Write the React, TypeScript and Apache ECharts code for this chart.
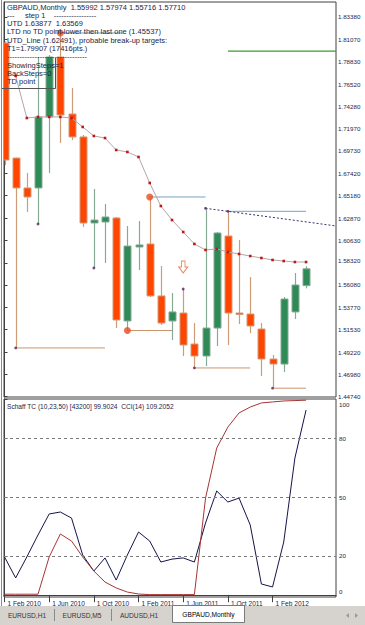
import React, { useEffect, useRef } from 'react';
import * as echarts from 'echarts';

// ---------- data ----------
const months = ['Feb 2010','Mar 2010','Apr 2010','May 2010','Jun 2010','Jul 2010','Aug 2010','Sep 2010','Oct 2010','Nov 2010','Dec 2010','Jan 2011','Feb 2011','Mar 2011','Apr 2011','May 2011','Jun 2011','Jul 2011','Aug 2011','Sep 2011','Oct 2011','Nov 2011','Dec 2011','Jan 2012','Feb 2012','Mar 2012','Apr 2012','May 2012'];
const opens = [1.8073, 1.6900, 1.6595, 1.6595, 1.7319, 1.7930, 1.7349, 1.7115, 1.6238, 1.6248, 1.6289, 1.5239, 1.5993, 1.6024, 1.5494, 1.5239, 1.5320, 1.5004, 1.4882, 1.5167, 1.6105, 1.5320, 1.5310, 1.5157, 1.4851, 1.4800, 1.5331, 1.55992];
const closes = [1.6880, 1.6595, 1.6503, 1.7319, 1.7930, 1.7339, 1.7115, 1.6238, 1.6268, 1.6299, 1.5249, 1.6003, 1.6014, 1.5494, 1.5218, 1.5331, 1.4994, 1.4882, 1.5167, 1.6136, 1.5320, 1.5310, 1.5188, 1.4851, 1.4800, 1.5463, 1.5606, 1.57710];
const lows = [1.6829, 1.4964, 1.6350, 1.6228, 1.6748, 1.7054, 1.7084, 1.6197, 1.5779, 1.5830, 1.5167, 1.5142, 1.5759, 1.5483, 1.5198, 1.5045, 1.4882, 1.4760, 1.4780, 1.4984, 1.4994, 1.5208, 1.5116, 1.4678, 1.45537, 1.4719, 1.5259, 1.55716];
const highs = [1.8090, 1.6905, 1.6748, 1.7930, 1.7950, 1.8175, 1.7614, 1.7135, 1.6585, 1.6432, 1.6299, 1.6207, 1.6258, 1.6503, 1.5800, 1.5524, 1.5565, 1.5218, 1.63877, 1.6146, 1.63569, 1.6065, 1.5687, 1.5218, 1.4892, 1.5483, 1.5728, 1.57974];
const maLine = [null, 1.7737, 1.7308, 1.7319, 1.7319, 1.7319, 1.7308, 1.7217, 1.7125, 1.7104, 1.6982, 1.6962, 1.6911, 1.6646, 1.6411, 1.6268, 1.6146, 1.6024, 1.5963, 1.5973, 1.5942, 1.5922, 1.5901, 1.5881, 1.5861, 1.5850, 1.5840, 1.5840];
const cciLine = [19.5, 8.8, 19.5, 30.7, 41.4, 42.4, 39.3, 20.5, 12.3, 19.0, 7.7, 20.5, 32.2, 27.6, 16.9, 18.4, 19.0, 16.9, 36.8, 53.1, 47.5, 49.5, 35.8, 5.7, 4.2, 27.1, 69.9, 94.4];
const schaffLine = [0.5, 0.5, 0.5, 0.5, 19.5, 31.2, 27.6, 19.5, 12.3, 6.7, 3.7, 1.6, 0.6, 0.3, 0.3, 0.3, 0.3, 0.3, 49.5, 75.0, 85.7, 92.9, 95.9, 98.0, 98.5, 99.0, 99.2, 99.4];

const priceTicks = ['1.83380','1.81070','1.78830','1.76520','1.74280','1.71970','1.69730','1.67420','1.65180','1.62870','1.60630','1.58320','1.56080','1.53770','1.51530','1.49220','1.46980','1.44740'];
const subTicks = [0, 20, 50, 80, 100];
const subLevels = [20, 50, 80];
const dateTickIdx = [0, 4, 8, 12, 16, 20, 24];
const dateLabels = ['1 Feb 2010','1 Jun 2010','1 Oct 2010','1 Feb 2011','1 Jun 2011','1 Oct 2011','1 Feb 2012'];

const circleHighIdx = [5, 13];
const circleLowIdx = [11];
const dotLowIdx = [1, 3, 8, 17, 24];
const dotHighIdx = [16, 18, 20];
const utdSegments = [[5, 10.5], [13, 18], [20, 27]]; // from TD high: start idx, end idx
const ltdSegments = [[1, 9], [11, 15], [17, 22], [24, 27]]; // from TD low: start idx, end idx
const utdTrendIdx = [18, 20];
const t1Level = 1.79907;
const t1StartIdx = 20;
const lastClose = 1.57710;
const arrowMarks = [[16, 1.5789]];

const infoLines = [
  'GBPAUD,Monthly  1.55992 1.57974 1.55716 1.57710',
  '---     step 1    -----------------',
  'UTD 1.63877  1.63569',
  'LTD no TD point-lower then last one (1.45537)',
  'UTD_Line (1.62491), probable break-up targets:',
  'T1=1.79907 (17416pts.)',
  '--------------------------------',
  'ShowingSteps=1',
  'BackSteps=0',
  'TD point',
];
const subTitle = 'Schaff TC (10,23,50) [43200] 99.9024  CCI(14) 109.2052';
const tabs = ['EURUSD,H1', 'EURUSD,M5', 'AUDUSD,H1'];
const activeTab = 'GBPAUD,Monthly';

// ---------- styling ----------
const FONT = "'Liberation Sans', Arial, sans-serif";
const TXT = '#1e1e46';
const bullFill = '#2e8b57';
const bullWick = '#86aa94';
const bearFill = '#ff4500';
const bearWick = '#cf9c78';
const xMin = -0.045;
const xMax = 29.68;
const yMin = 1.44639;
const yMax = 1.84909;

const segSeries = (a: number, b: number, ya: number, yb: number, color: string, width: number, type: any = 'solid') => ({
  type: 'line', xAxisIndex: 0, yAxisIndex: 0, z: 2, symbol: 'none', silent: true,
  data: [[a, ya], [b, yb]],
  lineStyle: { color, width, type },
});

export default function App() {
  const ref = useRef<HTMLDivElement>(null);

  useEffect(() => {
    if (!ref.current) return;
    const chart = echarts.init(ref.current, null, { renderer: 'svg' });

    const candleData = opens.map((o, i) => [i, o, closes[i], lows[i], highs[i]]);
    const renderCandle = (params: any, api: any) => {
      const i = api.value(0);
      const o = api.value(1), c = api.value(2), l = api.value(3), h = api.value(4);
      const pO = api.coord([i, o]);
      const pC = api.coord([i, c]);
      const pL = api.coord([i, l]);
      const pH = api.coord([i, h]);
      const bull = c >= o;
      const x = Math.round(pO[0]) + 0.5;
      const top = Math.min(pO[1], pC[1]);
      const bot = Math.max(pO[1], pC[1]);
      const w = 7;
      return {
        type: 'group',
        children: [
          { type: 'line', shape: { x1: x, y1: pH[1], x2: x, y2: pL[1] }, style: { stroke: bull ? bullWick : bearWick, lineWidth: 1.2 } },
          { type: 'rect', shape: { x: x - w / 2, y: top, width: w, height: Math.max(bot - top, 1.5) }, style: { fill: bull ? bullFill : bearFill, stroke: bull ? bullWick : bearWick, lineWidth: 1 } },
        ],
      };
    };

    const slope = (highs[utdTrendIdx[1]] - highs[utdTrendIdx[0]]) / (utdTrendIdx[1] - utdTrendIdx[0]);
    const trendEnd = highs[utdTrendIdx[0]] + slope * (xMax - utdTrendIdx[0]);

    const graphics: any[] = [];
    graphics.push({ type: 'line', shape: { x1: 1.5, y1: 0, x2: 1.5, y2: 606 }, style: { stroke: '#8a8a8a', lineWidth: 1 }, z: 100 });
    const infoY = [7.3, 15.5, 23.6, 31.8, 40, 48.3, 56.6, 65.4, 73.6, 81.8];
    infoLines.forEach((t, k) => {
      graphics.push({ type: 'text', x: 7, y: infoY[k], z: 100, style: { text: t, fill: TXT, font: `7.5px ${FONT}`, verticalAlign: 'middle', textVerticalAlign: 'middle' } });
    });
    graphics.push({ type: 'polyline', shape: { points: [[2, 88.5], [55.5, 88.5], [55.5, 58]] }, style: { stroke: '#555', lineWidth: 1, fill: null }, z: 100 });
    graphics.push({ type: 'text', x: 7, y: 406.5, z: 100, style: { text: subTitle, fill: TXT, font: `6.6px ${FONT}`, verticalAlign: 'middle', textVerticalAlign: 'middle' } });
    graphics.push({ type: 'rect', shape: { x: 0, y: 606, width: 365, height: 19 }, style: { fill: '#d6d3ce' }, z: 100 });
    const tabCenters = [27, 82, 139];
    tabs.forEach((t, k) => {
      graphics.push({ type: 'text', x: tabCenters[k], y: 615.5, z: 101, style: { text: t, fill: '#333', font: `6.6px ${FONT}`, align: 'center', textAlign: 'center', verticalAlign: 'middle', textVerticalAlign: 'middle' } });
    });
    [54.5, 111.5].forEach((sx) => {
      graphics.push({ type: 'line', shape: { x1: sx, y1: 609, x2: sx, y2: 621 }, style: { stroke: '#8a8a8a', lineWidth: 1 }, z: 101 });
    });
    graphics.push({ type: 'rect', shape: { x: 172.5, y: 605.5, width: 72, height: 17 }, style: { fill: '#ffffff', stroke: '#7a7a7a', lineWidth: 1 }, z: 101 });
    graphics.push({ type: 'text', x: 208.5, y: 614.5, z: 102, style: { text: activeTab, fill: '#000', font: `6.6px ${FONT}`, align: 'center', textAlign: 'center', verticalAlign: 'middle', textVerticalAlign: 'middle' } });
    graphics.push({ type: 'polygon', shape: { points: [[346, 615.5], [349, 613], [349, 618]] }, style: { fill: '#9a9a9a' }, z: 101 });
    graphics.push({ type: 'polygon', shape: { points: [[358, 615.5], [355, 613], [355, 618]] }, style: { fill: '#9a9a9a' }, z: 101 });

    const series: any[] = [];
    ltdSegments.forEach(([a, b]) => series.push(segSeries(a, b, lows[a], lows[a], '#c8966c', 1)));
    utdSegments.forEach(([a, b]) => series.push(segSeries(a, b, highs[a], highs[a], '#74a3c4', 1)));
    series.push(segSeries(t1StartIdx, xMax, t1Level, t1Level, '#3c9a34', 1.2));
    series.push(segSeries(utdTrendIdx[0], xMax, highs[utdTrendIdx[0]], trendEnd, '#3a2f6e', 1, [2, 2]));

    series.push(
      {
        type: 'custom', xAxisIndex: 0, yAxisIndex: 0, z: 3, clip: true,
        renderItem: renderCandle,
        encode: { x: 0, y: [1, 2, 3, 4] },
        data: candleData,
      },
      {
        type: 'line', xAxisIndex: 0, yAxisIndex: 0, z: 4,
        data: maLine.map((v, i) => [i, v]),
        symbol: 'rect', symbolSize: 2.6, showSymbol: true,
        itemStyle: { color: '#c01818' },
        lineStyle: { color: '#b8a4a4', width: 1 },
        markLine: {
          silent: true, symbol: 'none', animation: false,
          lineStyle: { opacity: 0 },
          data: [{ yAxis: lastClose }],
          label: {
            show: true, position: 'end', distance: 2,
            formatter: () => lastClose.toFixed(5),
            backgroundColor: '#14286e', color: '#ffffff', fontSize: 6, lineHeight: 6, fontFamily: FONT, padding: [0.5, 2, 0, 2],
          },
        },
      },
      {
        type: 'scatter', xAxisIndex: 0, yAxisIndex: 0, z: 5,
        symbol: 'circle', symbolSize: 7,
        itemStyle: { color: '#ea4b1f' },
        data: [...circleHighIdx.map((i) => [i, highs[i]]), ...circleLowIdx.map((i) => [i, lows[i]])],
      },
      {
        type: 'scatter', xAxisIndex: 0, yAxisIndex: 0, z: 5,
        symbol: 'circle', symbolSize: 2.8,
        itemStyle: { color: '#5a1f5e' },
        data: [...dotLowIdx.map((i) => [i, lows[i]]), ...dotHighIdx.map((i) => [i, highs[i]])],
      },
      {
        type: 'scatter', xAxisIndex: 0, yAxisIndex: 0, z: 5,
        symbol: 'path://M3,0 L7,0 L7,6 L10,6 L5,12 L0,6 L3,6 Z', symbolSize: [9, 12],
        itemStyle: { color: '#ffffff', borderColor: '#e8672e', borderWidth: 1 },
        data: arrowMarks,
      },
      {
        type: 'line', xAxisIndex: 1, yAxisIndex: 1, z: 3,
        data: cciLine.map((v, i) => [i, v]),
        symbol: 'none', lineStyle: { color: '#14144a', width: 1 },
        markLine: {
          silent: true, symbol: 'none', animation: false,
          lineStyle: { color: '#7a7a7a', type: [3, 3], width: 1 },
          label: { show: false },
          data: subLevels.map((v) => ({ yAxis: v })),
        },
      },
      {
        type: 'line', xAxisIndex: 1, yAxisIndex: 1, z: 3,
        data: schaffLine.map((v, i) => [i, v]),
        symbol: 'none', lineStyle: { color: '#a83434', width: 1 },
      },
    );

    const option: any = {
      animation: false,
      backgroundColor: '#ffffff',
      textStyle: { fontFamily: FONT },
      grid: [
        { left: 4, top: 2, width: 332, height: 395, show: true, borderColor: '#404040', borderWidth: 1, backgroundColor: 'transparent' },
        { left: 4, top: 399, width: 332, height: 198, show: true, borderColor: '#404040', borderWidth: 1, backgroundColor: 'transparent' },
      ],
      xAxis: [
        { type: 'value', gridIndex: 0, min: xMin, max: xMax, show: false },
        {
          type: 'value', gridIndex: 1, min: xMin, max: xMax,
          axisLine: { show: true, lineStyle: { color: '#404040' } },
          axisTick: { show: true, length: 7, customValues: dateTickIdx, lineStyle: { color: '#404040' } },
          axisLabel: {
            customValues: dateTickIdx, align: 'left', margin: 3, padding: [0, 0, 0, 3],
            formatter: (v: number) => dateLabels[dateTickIdx.indexOf(Math.round(v))] || '',
            fontSize: 6.6, color: TXT, fontFamily: FONT,
          },
          splitLine: { show: false },
        },
      ],
      yAxis: [
        {
          type: 'value', gridIndex: 0, position: 'right', min: yMin, max: yMax,
          axisLine: { show: true, lineStyle: { color: '#404040' } },
          axisTick: { show: true, length: 3, customValues: priceTicks.map(Number), lineStyle: { color: '#404040' } },
          axisLabel: {
            customValues: priceTicks.map(Number), fontSize: 6.2, color: TXT, margin: 2, fontFamily: FONT,
            formatter: (v: number) => (v > lastClose && v - lastClose < 0.008 ? `{up|${v.toFixed(5)}}` : v.toFixed(5)),
            rich: { up: { padding: [0, 0, 5, 0], fontSize: 6.2, color: TXT, fontFamily: FONT } },
          },
          splitLine: { show: false },
        },
        {
          type: 'value', gridIndex: 1, position: 'right', min: -0.92, max: 100,
          axisLine: { show: true, lineStyle: { color: '#404040' } },
          axisTick: { show: true, length: 3, customValues: subTicks, lineStyle: { color: '#404040' } },
          axisLabel: {
            customValues: subTicks, margin: 3, fontSize: 6.2, color: TXT, fontFamily: FONT,
            formatter: (v: number) => (v === 100 ? '{d|100}' : v === 0 ? '{u|0}' : String(v)),
            rich: {
              d: { padding: [10, 0, 0, 0], fontSize: 6.2, color: TXT, fontFamily: FONT },
              u: { padding: [0, 0, 8, 0], fontSize: 6.2, color: TXT, fontFamily: FONT },
            },
          },
          splitLine: { show: false },
        },
      ],
      graphic: graphics,
      series,
    };

    chart.setOption(option);
    return () => chart.dispose();
  }, []);

  return <div ref={ref} style={{ position: 'fixed', left: 0, top: 0, width: 365, height: 625 }} />;
}
